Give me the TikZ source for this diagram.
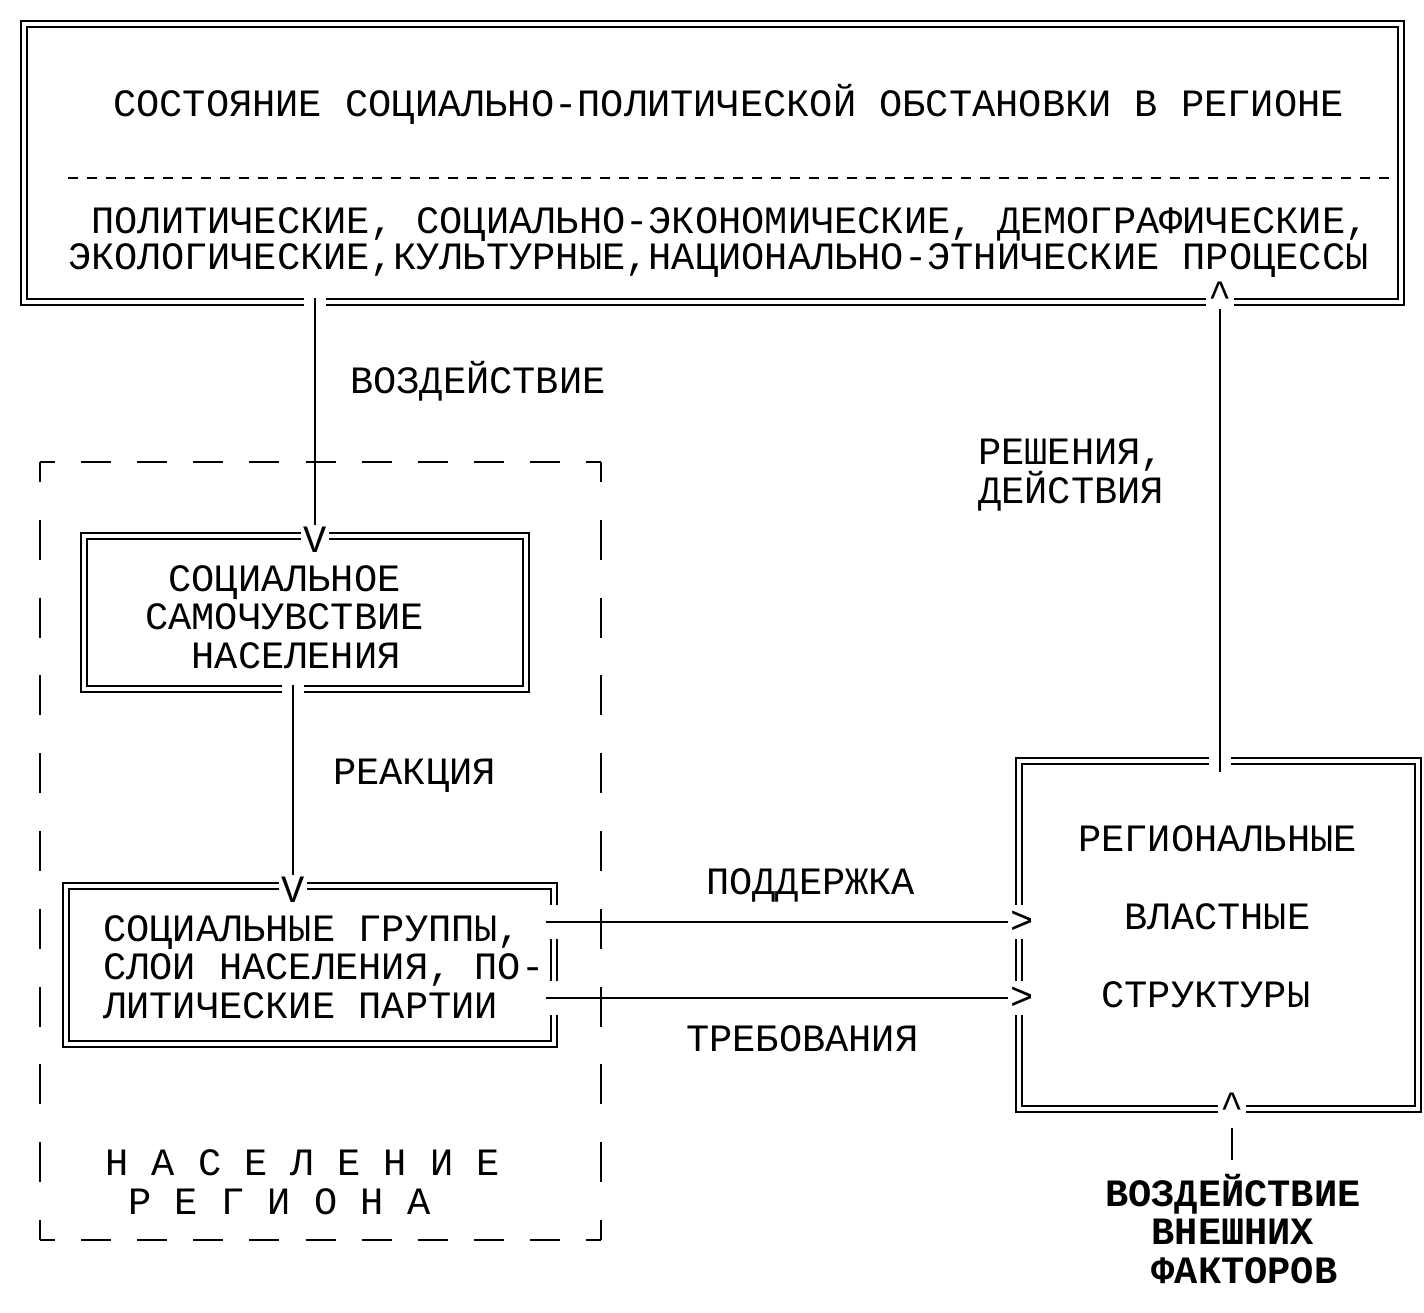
\documentclass[tikz,border=0pt]{standalone}
\usepackage{fontspec}
\newfontfamily\typew{Liberation Mono}
\newcommand{\typesize}{\fontsize{38.7pt}{38.5pt}\selectfont}
\newcommand{\tsp}{\hphantom{Н}}

\begin{document}
\begin{tikzpicture}[x=1pt,y=1pt,yscale=-1,xscale=1,
  dblbox/.style={draw, line width=1.8pt, double, double distance=4.5pt, inner sep=0pt},
  txt/.style={font=\typew\typesize, inner sep=0pt, anchor=base west, align=left},
  txtb/.style={txt, font=\typew\bfseries\typesize},
  tip/.style={font=\typew\typesize, fill=white, inner sep=2pt},
  link/.style={line width=1.6pt, preaction={draw=white, line width=#1}},
  link/.default=22pt,
  hframe/.style={line width=1.8pt, dash pattern=on 30pt off 26.1pt, dash phase=15pt},
  vframe/.style={line width=1.8pt, dash pattern=on 40pt off 37.8pt, dash phase=20pt}]
\fill[white] (0,0) rectangle (1424,1312);
\useasboundingbox (0,0) rectangle (1424,1312);

% boxes
\node[dblbox, minimum width=1377pt, minimum height=278pt] (situation) at (712.5,163) {};
\node[dblbox, minimum width=442pt, minimum height=153pt] (wellbeing) at (305,612.5) {};
\node[dblbox, minimum width=488pt, minimum height=158pt] (groups) at (310,965) {};
\node[dblbox, minimum width=399pt, minimum height=348pt] (power) at (1218.5,935) {};

\draw[line width=1.4pt, dash pattern=on 10pt off 9pt] (68,178) -- (1390,178);

% arrow heads
\node[tip] (tipA) at (315,540) {V};
\node[tip] (tipB) at (293,890) {V};
\node[tip, anchor=base] (tipC) at (1220,307) {\textasciicircum};
\node[tip, anchor=base] (tipD) at (1232,1118) {\textasciicircum};
\node[tip, minimum height=34pt] (tipE) at (1022,922) {>};
\node[tip, minimum height=34pt] (tipF) at (1022,998) {>};
\coordinate (ext-top) at (1232,1160);

% texts (base = last line)
\node[txt] (state) at (113,116) {СОСТОЯНИЕ СОЦИАЛЬНО-ПОЛИТИЧЕСКОЙ ОБСТАНОВКИ В РЕГИОНЕ};
\node[txt] (processes) at (68,269) {\tsp ПОЛИТИЧЕСКИЕ, СОЦИАЛЬНО-ЭКОНОМИЧЕСКИЕ, ДЕМОГРАФИЧЕСКИЕ,\\[-2.5pt]ЭКОЛОГИЧЕСКИЕ,КУЛЬТУРНЫЕ,НАЦИОНАЛЬНО-ЭТНИЧЕСКИЕ ПРОЦЕССЫ};
\node[txt] (feeling) at (145,668) {\tsp СОЦИАЛЬНОЕ\\САМОЧУВСТВИЕ\\\tsp\tsp НАСЕЛЕНИЯ};
\node[txt] (layers) at (103,1018) {СОЦИАЛЬНЫЕ ГРУППЫ,\\СЛОИ НАСЕЛЕНИЯ, ПО-\\ЛИТИЧЕСКИЕ ПАРТИИ};
\node[txt] (structures) at (1078,1007) {РЕГИОНАЛЬНЫЕ\\[39.5pt]\tsp\tsp ВЛАСТНЫЕ\\[39.5pt]\tsp СТРУКТУРЫ};
\node[txt] (population) at (105,1214) {Н А С Е Л Е Н И Е\\\tsp Р Е Г И О Н А};
\node[txt] (lbl-impact) at (350,393) {ВОЗДЕЙСТВИЕ};
\node[txt] (lbl-decide) at (978,503) {РЕШЕНИЯ,\\[-1.5pt]ДЕЙСТВИЯ};
\node[txt] (lbl-react) at (333,784) {РЕАКЦИЯ};
\node[txt] (lbl-support) at (706,894) {ПОДДЕРЖКА};
\node[txt] (lbl-demand) at (686,1051) {ТРЕБОВАНИЯ};
\node[txtb] (external) at (1105,1283) {ВОЗДЕЙСТВИЕ\\\tsp\tsp ВНЕШНИХ\\\tsp\tsp ФАКТОРОВ};

% connectors
\draw[link, shorten <=-5pt] (tipA |- situation.south) -- (tipA.north);
\draw[link, shorten <=-5pt] (tipB |- wellbeing.south) -- (tipB.north);
\draw[link, shorten >=-12pt] (tipC.south) -- (tipC |- power.north);
\draw[link=34pt, shorten <=-9pt] (groups.east |- tipE) -- (tipE.west);
\draw[link=34pt, shorten <=-9pt] (groups.east |- tipF) -- (tipF.west);
\draw[link, shorten >=8pt] (ext-top) -- (tipD.south);

% population frame
\coordinate (fr-nw) at (40,462);
\coordinate (fr-ne) at (601,462);
\coordinate (fr-sw) at (40,1240);
\coordinate (fr-se) at (601,1240);
\draw[hframe] (fr-nw) -- (fr-ne);
\draw[hframe] (fr-sw) -- (fr-se);
\draw[vframe] (fr-nw) -- (fr-sw);
\draw[vframe] (fr-ne) -- (fr-se);

\end{tikzpicture}
\end{document}
